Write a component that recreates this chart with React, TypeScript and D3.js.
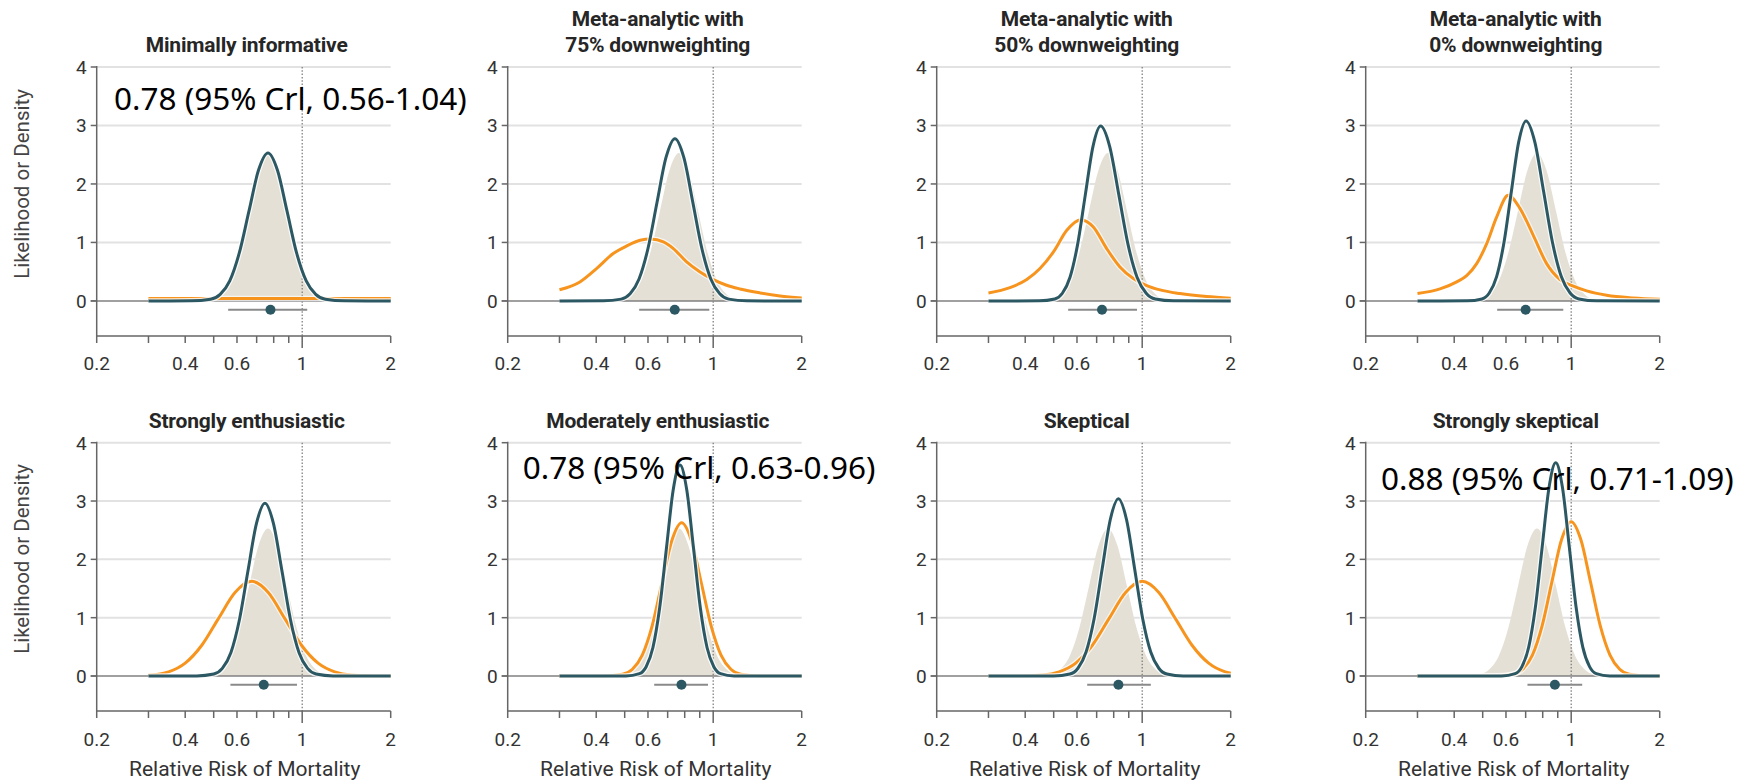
import React from "react";
import * as d3 from "d3";

type Pt = [number, number];

// ---------- DATA ----------
const panelTitles: string[][] = [
  ["Minimally informative"],
  ["Meta-analytic with", "75% downweighting"],
  ["Meta-analytic with", "50% downweighting"],
  ["Meta-analytic with", "0% downweighting"],
  ["Strongly enthusiastic"],
  ["Moderately enthusiastic"],
  ["Skeptical"],
  ["Strongly skeptical"],
];

const xTicks = [0.2, 0.3, 0.4, 0.5, 0.6, 0.7, 0.8, 0.9, 1, 2];
const xTickLabels = [0.2, 0.4, 0.6, 1, 2];
const yTicks = [0, 1, 2, 3, 4];
const yGrid = [1, 2, 3, 4];
const xTitle = "Relative Risk of Mortality";
const yTitle = "Likelihood or Density";

// likelihood (shaded area), identical in all panels
const likelihood: Pt[] = [
  [0.3, 0], [0.42, 0.001], [0.488, 0.028], [0.526, 0.111], [0.567, 0.342], [0.611, 0.821],
  [0.659, 1.534], [0.71, 2.233], [0.765, 2.53], [0.824, 2.233], [0.888, 1.534], [0.957, 0.821],
  [1.032, 0.342], [1.112, 0.111], [1.199, 0.028], [1.392, 0.001], [2, 0],
];

// priors (orange)
const priorMinimal: Pt[] = [[0.3, 0.04], [2, 0.04]];
const priorMeta75: Pt[] = [
  [0.3, 0.19], [0.352, 0.325], [0.401, 0.553], [0.457, 0.81], [0.508, 0.94], [0.564, 1.037],
  [0.613, 1.06], [0.677, 1.01], [0.732, 0.895], [0.812, 0.667], [0.902, 0.496], [1.001, 0.365],
  [1.111, 0.268], [1.233, 0.205], [1.443, 0.137], [1.688, 0.085], [2, 0.05],
];
const priorMeta50: Pt[] = [
  [0.3, 0.137], [0.355, 0.228], [0.405, 0.365], [0.449, 0.553], [0.499, 0.838], [0.554, 1.208],
  [0.618, 1.39], [0.682, 1.265], [0.757, 0.895], [0.84, 0.581], [0.933, 0.382], [1.036, 0.262],
  [1.15, 0.188], [1.345, 0.125], [1.657, 0.074], [2, 0.046],
];
const priorMeta0: Pt[] = [
  [0.3, 0.125], [0.358, 0.205], [0.408, 0.325], [0.441, 0.433], [0.477, 0.638], [0.516, 0.98],
  [0.558, 1.436], [0.611, 1.806], [0.67, 1.578], [0.743, 1.122], [0.825, 0.638], [0.916, 0.365],
  [1.017, 0.251], [1.129, 0.171], [1.32, 0.097], [1.627, 0.051], [2, 0.028],
];
const priorStrongEnth: Pt[] = [
  [0.3, 0.014], [0.3511, 0.071], [0.4, 0.22], [0.4555, 0.527], [0.5188, 0.984], [0.5909, 1.432],
  [0.673, 1.623], [0.7665, 1.432], [0.873, 0.984], [0.9944, 0.527], [1.1325, 0.22], [1.2899, 0.071],
  [1.469, 0.018], [1.9055, 0.0005], [2, 0],
];
const priorModEnth: Pt[] = [
  [0.3, 0], [0.4214, 0.001], [0.4917, 0.029], [0.5311, 0.115], [0.5737, 0.356], [0.6196, 0.854],
  [0.6694, 1.594], [0.723, 2.32], [0.781, 2.629], [0.8436, 2.32], [0.9113, 1.594], [0.9844, 0.854],
  [1.0633, 0.356], [1.1485, 0.115], [1.2406, 0.029], [1.4476, 0.001], [2, 0],
];
const priorSkeptical: Pt[] = [
  [0.3, 0], [0.3532, 0.0005], [0.4581, 0.018], [0.5218, 0.071], [0.5943, 0.22], [0.6768, 0.527],
  [0.7709, 0.984], [0.878, 1.432], [1.0, 1.623], [1.139, 1.432], [1.2972, 0.984], [1.4775, 0.527],
  [1.6827, 0.22], [1.9166, 0.071], [2, 0.047],
];
const priorStrongSkep: Pt[] = [
  [0.3, 0], [0.5445, 0.001], [0.6339, 0.029], [0.6839, 0.116], [0.7379, 0.358], [0.7962, 0.859],
  [0.859, 1.605], [0.9269, 2.335], [1.0, 2.646], [1.0789, 2.335], [1.1641, 1.605], [1.256, 0.859],
  [1.3552, 0.358], [1.4622, 0.116], [1.5776, 0.029], [1.8365, 0.001], [2, 0],
];

// posteriors (teal)
const postMinimal: Pt[] = likelihood;
const postMeta75: Pt[] = [
  [0.3, 0], [0.4225, 0.001], [0.4862, 0.031], [0.5216, 0.122], [0.5595, 0.375], [0.6003, 0.901],
  [0.6439, 1.683], [0.6907, 2.449], [0.741, 2.775], [0.7949, 2.449], [0.8527, 1.683], [0.9146, 0.901],
  [0.9813, 0.375], [1.0527, 0.122], [1.1294, 0.031], [1.2996, 0.001], [2, 0],
];
const postMeta50: Pt[] = [
  [0.3, 0], [0.4472, 0.001], [0.5041, 0.033], [0.5352, 0.131], [0.5682, 0.405], [0.6033, 0.971],
  [0.6405, 1.813], [0.68, 2.639], [0.722, 2.99], [0.7754, 2.639], [0.8328, 1.813], [0.8944, 0.971],
  [0.9606, 0.405], [1.0317, 0.131], [1.108, 0.033], [1.278, 0.001], [2, 0],
];
const postMeta0: Pt[] = [
  [0.3, 0], [0.4429, 0.001], [0.497, 0.034], [0.5264, 0.135], [0.5576, 0.416], [0.5907, 0.999],
  [0.6257, 1.866], [0.6627, 2.715], [0.702, 3.077], [0.7522, 2.715], [0.806, 1.866], [0.8637, 0.999],
  [0.9254, 0.416], [0.9916, 0.135], [1.0625, 0.034], [1.2199, 0.001], [2, 0],
];
const postStrongEnth: Pt[] = [
  [0.3, 0], [0.4378, 0.001], [0.5004, 0.033], [0.5349, 0.13], [0.5719, 0.4], [0.6114, 0.961],
  [0.6536, 1.795], [0.6987, 2.612], [0.747, 2.96], [0.7986, 2.612], [0.8538, 1.795], [0.9127, 0.961],
  [0.9757, 0.4], [1.0431, 0.13], [1.1151, 0.033], [1.2745, 0.001], [2, 0],
];
const postModEnth: Pt[] = [
  [0.3, 0], [0.5047, 0.001], [0.5611, 0.04], [0.5916, 0.159], [0.6238, 0.489], [0.6577, 1.174],
  [0.6935, 2.194], [0.7312, 3.192], [0.771, 3.617], [0.8129, 3.192], [0.8571, 2.194], [0.9038, 1.174],
  [0.9529, 0.489], [1.0048, 0.159], [1.0594, 0.04], [1.1778, 0.001], [2, 0],
];
const postSkeptical: Pt[] = [
  [0.3, 0], [0.5001, 0.001], [0.5676, 0.034], [0.6047, 0.133], [0.6443, 0.411], [0.6865, 0.987],
  [0.7313, 1.844], [0.779, 2.683], [0.83, 3.04], [0.8843, 2.683], [0.9421, 1.844], [1.0035, 0.987],
  [1.0692, 0.411], [1.1392, 0.133], [1.2136, 0.034], [1.3775, 0.001], [2, 0],
];
const postStrongSkep: Pt[] = [
  [0.3, 0], [0.58, 0.001], [0.6448, 0.041], [0.6799, 0.161], [0.7169, 0.495], [0.7558, 1.187],
  [0.797, 2.218], [0.8403, 3.227], [0.886, 3.657], [0.9342, 3.227], [0.985, 2.218], [1.0386, 1.187],
  [1.095, 0.495], [1.1546, 0.161], [1.2174, 0.041], [1.3535, 0.001], [2, 0],
];

const priors: Pt[][] = [priorMinimal, priorMeta75, priorMeta50, priorMeta0, priorStrongEnth, priorModEnth, priorSkeptical, priorStrongSkep];
const posteriors: Pt[][] = [postMinimal, postMeta75, postMeta50, postMeta0, postStrongEnth, postModEnth, postSkeptical, postStrongSkep];

// posterior median and 95% CrI
const postMedian = [0.78, 0.74, 0.73, 0.7, 0.74, 0.78, 0.83, 0.88];
const postLow = [0.56, 0.56, 0.56, 0.56, 0.57, 0.63, 0.65, 0.71];
const postHigh = [1.04, 0.97, 0.96, 0.94, 0.96, 0.96, 1.07, 1.09];
const intervalY = -0.15;

const annotationPanels = [0, 5, 7];
const annotationTexts = [
  "0.78 (95% Crl, 0.56-1.04)",
  "0.78 (95% Crl, 0.63-0.96)",
  "0.88 (95% Crl, 0.71-1.09)",
];

// ---------- LAYOUT / STYLE ----------
const W = 1752;
const H = 782;
const colX0 = [96.7, 507.7, 936.7, 1365.7];
const plotW = 294;
const rowTop = [67, 442.7];
const rowBottom = [336, 711];
const titleBase = [52.3, 427.7];
const tickLabelBase = [370, 746];
const annotationPos: Pt[] = [[114, 109.5], [522.7, 478.5], [1381, 490]];

const TEAL = "#2c5864";
const ORANGE = "#f7941e";
const FILL = "#e4e0d6";
const GRID = "#e2e2e2";
const AXIS = "#666";
const TEXT = "#333";
const FONT = "Roboto, 'Noto Sans', sans-serif";

function Panel({ idx }: { idx: number }) {
  const col = idx % 4;
  const row = Math.floor(idx / 4);
  const x0 = colX0[col];
  const x = d3.scaleLog().domain([0.2, 2]).range([x0, x0 + plotW]);
  const y = d3.scaleLinear().domain([-0.6, 4]).range([rowBottom[row], rowTop[row]]);
  const line = d3.line<Pt>().x((d) => x(d[0])).y((d) => y(d[1])).curve(d3.curveMonotoneX);
  const area = d3.area<Pt>().x((d) => x(d[0])).y0(y(0)).y1((d) => y(d[1])).curve(d3.curveMonotoneX);
  const title = panelTitles[idx];
  const tcx = x0 + 150;
  const yBot = y(-0.6);
  return (
    <g>
      {title.map((t, i) => (
        <text key={i} x={tcx} y={titleBase[row] - (title.length - 1 - i) * 26} textAnchor="middle"
          fontFamily={FONT} fontWeight={700} fontSize={21} letterSpacing={-0.2} fill="#262626">{t}</text>
      ))}
      {yGrid.map((v) => (
        <line key={v} x1={x0} x2={x(2)} y1={y(v)} y2={y(v)} stroke={GRID} strokeWidth={2} />
      ))}
      <path d={area(likelihood) || ""} fill={FILL} />
      <line x1={x(1)} x2={x(1)} y1={y(4)} y2={yBot} stroke="#777" strokeWidth={1.2} strokeDasharray="1.5 1.8" />
      <line x1={x0 - 6} x2={x(2)} y1={y(0)} y2={y(0)} stroke="#808080" strokeWidth={1.5} />
      {/* y axis */}
      <line x1={x0} x2={x0} y1={y(4) - 1} y2={yBot} stroke={AXIS} strokeWidth={1.5} />
      {yTicks.map((v) => (
        <g key={v}>
          <line x1={x0 - 6} x2={x0} y1={y(v)} y2={y(v)} stroke={AXIS} strokeWidth={1.5} />
          <text x={x0 - 10} y={y(v)} dy="0.36em" textAnchor="end" fontFamily={FONT} fontSize={19} fill={TEXT}>{v}</text>
        </g>
      ))}
      {/* x axis */}
      <line x1={x0} x2={x(2)} y1={yBot} y2={yBot} stroke={AXIS} strokeWidth={1.5} />
      {xTicks.map((v) => (
        <line key={v} x1={x(v)} x2={x(v)} y1={yBot} y2={yBot + (v === 1 ? 12 : 7)} stroke={AXIS} strokeWidth={1.5} />
      ))}
      {xTickLabels.map((v) => (
        <text key={v} x={x(v)} y={tickLabelBase[row]} textAnchor="middle" fontFamily={FONT} fontSize={19} fill={TEXT}>{String(v)}</text>
      ))}
      {row === 1 && (
        <text x={tcx - 2} y={776} textAnchor="middle" fontFamily={FONT} fontSize={21} fill={TEXT}>{xTitle}</text>
      )}
      {/* prior */}
      <path d={line(priors[idx]) || ""} fill="none" stroke="#fff" strokeWidth={5.5} strokeOpacity={0.7} />
      <path d={line(priors[idx]) || ""} fill="none" stroke={ORANGE} strokeWidth={3} />
      {/* posterior */}
      <path d={line(posteriors[idx]) || ""} fill="none" stroke="#fff" strokeWidth={5.5} strokeOpacity={0.8} />
      <path d={line(posteriors[idx]) || ""} fill="none" stroke={TEAL} strokeWidth={3} />
      {/* interval */}
      <line x1={x(postLow[idx])} x2={x(postHigh[idx])} y1={y(intervalY)} y2={y(intervalY)} stroke="#8a8a8a" strokeWidth={2} />
      <circle cx={x(postMedian[idx])} cy={y(intervalY)} r={5} fill={TEAL} />
    </g>
  );
}

export default function App() {
  const idxs = d3.range(8);
  return (
    <svg width={W} height={H} style={{ position: "absolute", left: 0, top: 0, background: "#fff" }}>
      <rect width={W} height={H} fill="#fff" />
      {[184, 559].map((cy, i) => (
        <text key={i} transform={`translate(28.5,${cy}) rotate(-90)`} textAnchor="middle" fontFamily={FONT} fontSize={20.5} fill="#444">{yTitle}</text>
      ))}
      {idxs.map((i) => <Panel key={i} idx={i} />)}
      {annotationPanels.map((p, i) => (
        <text key={p} x={annotationPos[i][0]} y={annotationPos[i][1]} fontFamily="'Noto Sans', 'Open Sans', sans-serif" fontSize={31.5} fill="#000">{annotationTexts[i]}</text>
      ))}
    </svg>
  );
}
